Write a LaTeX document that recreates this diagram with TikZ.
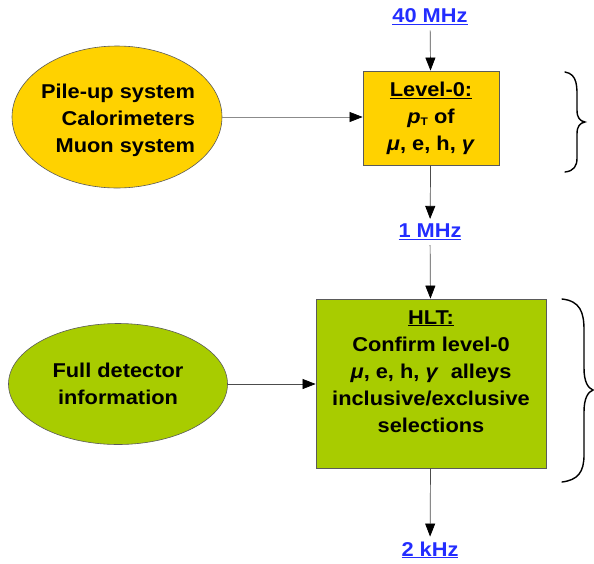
\documentclass[tikz,border=0pt]{standalone}
\usepackage{fontspec}
\setmainfont{Liberation Sans}[FakeStretch=1.09]
\usetikzlibrary{arrows.meta,shapes.geometric}
\definecolor{lzero}{RGB}{255,210,0}
\definecolor{hltgreen}{RGB}{168,204,0}
\definecolor{ratecol}{RGB}{35,45,255}
\definecolor{edgegray}{RGB}{90,90,90}
\newcommand{\gi}[1]{\textit{#1}}
\tikzset{
  txt/.style={font=\fontsize{20}{27}\selectfont\bfseries, align=center},
  rate/.style={txt, text=ratecol, inner xsep=0pt, inner ysep=5pt},
  ovalsrc/.style={ellipse, draw=edgegray, line width=0.6pt, txt, inner sep=0pt},
  stagebox/.style={rectangle, draw=edgegray, line width=0.8pt, txt, inner sep=0pt},
  flow/.style={draw=black!70, line width=0.7pt, -{Triangle[length=13pt,width=10pt,color=black]}},
  curly/.style={draw=black, line width=1.4pt, line cap=round}
}
\begin{document}
\begin{tikzpicture}[x=1pt,y=-1pt]
\useasboundingbox (0,0) rectangle (594,563);

% rate labels
\node[rate] (rate40) at (430,17) {\underline{40 MHz}};
\node[rate] (rate1)  at (430,232) {\underline{1 MHz}};
\node[rate] (rate2)  at (430,550) {\underline{2 kHz}};

% trigger stages
\node[stagebox, fill=lzero, minimum width=136pt, minimum height=94pt] (lvl0) at (431,118)
  {\underline{Level-0:}\\ \gi{p}{\fontsize{11}{11}\selectfont\raisebox{-2pt}{T}} of\\ \gi{μ}, e, h, \gi{γ}};
\node[stagebox, fill=hltgreen, minimum width=230pt, minimum height=169pt] (hlt) at (431,383.5) {};
\node[txt] (hlttext) at (431,371.5)
  {\underline{HLT:}\\ Confirm level-0\\ \gi{μ}, e, h, \gi{γ}\ \ alleys\\ inclusive/exclusive\\ selections};

% detector inputs
\node[ovalsrc, fill=lzero, minimum width=210pt, minimum height=142pt] (pile) at (117,117) {};
\node[txt, align=right] (piletext) at (118,120)
  {Pile-up system\\ Calorimeters\\ Muon system};
\node[ovalsrc, fill=hltgreen, minimum width=219pt, minimum height=121pt] (full) at (118,384)
  {Full detector\\ information};

% data flow
\draw[flow] (rate40) -- (lvl0);
\draw[flow] (lvl0) -- (rate1);
\draw[flow] (rate1) -- (hlt);
\draw[flow] (hlt) -- (rate2);
\draw[flow, draw=edgegray!70] (pile.east) -- (lvl0.west |- pile.east);
\draw[flow] (full.east) -- (hlt.west |- full.east);

% braces
\draw[curly] (565,72) .. controls (578,74) and (577,88) .. (577,100)
  -- (577,110) .. controls (577,118) and (580,121) .. (585,122)
  .. controls (580,123) and (577,126) .. (577,134)
  -- (577,158) .. controls (577,166) and (574,171) .. (565,172);
\draw[curly] (562,299) .. controls (580,301) and (584,312) .. (584,330)
  -- (584,368) .. controls (584,382) and (588,388) .. (593,390)
  .. controls (588,392) and (584,398) .. (584,412)
  -- (584,455) .. controls (584,472) and (578,480) .. (562,482);
\end{tikzpicture}
\end{document}
